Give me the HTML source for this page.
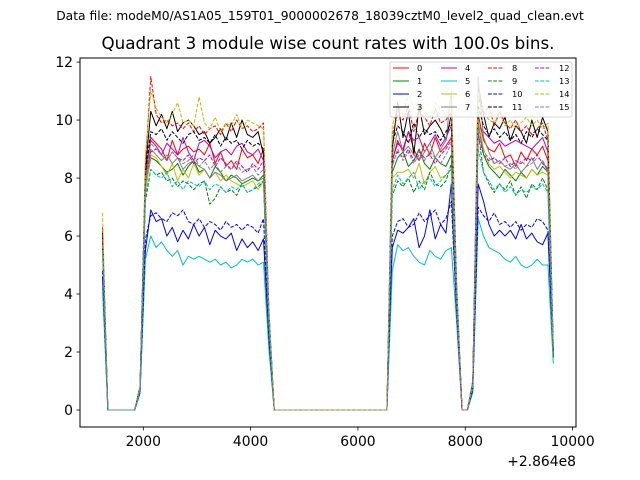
<!DOCTYPE html>
<html><head><meta charset="utf-8"><style>
html,body{margin:0;padding:0;background:#fff;}
svg{display:block;font-family:"DejaVu Sans","Liberation Sans",sans-serif;}
</style></head><body>
<svg id="chart" width="640" height="480" viewBox="0 0 640 480">
<text x="320" y="20" font-size="12.3" text-anchor="middle">Data file: modeM0/AS1A05_159T01_9000002678_18039cztM0_level2_quad_clean.evt</text>
<text x="328" y="49" font-size="16.7" text-anchor="middle">Quadrant 3 module wise count rates with 100.0s bins.</text>
<g id="plot"></g>
<rect x="80" y="58" width="496" height="369" fill="none" stroke="#000" stroke-width="1"/>
<g id="axes"></g>
<g id="legend"></g>
<text x="576" y="466" font-size="13.9" text-anchor="end">+2.864e8</text>
</svg>
<script>
const t0 = 1240, dt = 100, nPts = 85;
const xTicks = [2000,4000,6000,8000,10000];
const yTicks = [0,2,4,6,8,10,12];
const seriesNames = ["0","1","2","3","4","5","6","7","8","9","10","11","12","13","14","15"];
const s0=[6.2,0,0,0,0,0,0,0.8,8.0,9.4,9.2,9.0,8.6,9.3,8.8,9.0,9.1,8.9,9.0,8.8,9.2,8.5,8.9,8.4,8.6,8.3,9.0,8.7,8.8,8.5,9.0,3.2,0,0,0,0,0,0,0,0,0,0,0,0,0,0,0,0,0,0,0,0,0,0,8.6,9.3,8.9,9.6,9.0,8.6,9.2,8.8,9.4,8.9,9.1,9.4,4.0,0,0,0.9,10.2,9.3,9.0,8.9,9.2,8.7,8.8,8.4,8.9,8.6,9.0,8.8,9.1,8.6,2.0];
const s1=[5.8,0,0,0,0,0,0,0.7,7.6,8.7,8.6,8.4,8.2,8.3,8.5,8.1,8.4,8.6,8.2,8.3,8.0,8.4,8.2,7.9,8.1,8.0,7.8,7.9,8.0,7.9,8.1,2.9,0,0,0,0,0,0,0,0,0,0,0,0,0,0,0,0,0,0,0,0,0,0,8.2,8.7,8.9,8.4,8.6,9.0,8.5,8.3,8.7,8.5,8.4,8.8,3.7,0,0,0.8,9.9,8.8,8.4,8.2,8.0,8.3,8.1,7.9,8.2,8.0,8.3,8.1,8.4,8.2,1.8];
const s2=[4.6,0,0,0,0,0,0,0.6,5.5,6.9,6.5,6.6,6.0,6.3,5.8,6.2,5.9,6.4,6.0,6.3,5.7,6.2,6.0,5.9,6.1,5.5,5.9,5.6,5.8,5.5,5.9,2.4,0,0,0,0,0,0,0,0,0,0,0,0,0,0,0,0,0,0,0,0,0,0,5.6,6.2,6.1,6.3,6.6,5.6,6.0,6.9,5.9,6.4,6.1,7.8,3.2,0,0,0.7,7.8,7.2,6.4,6.0,6.2,6.0,6.2,5.9,6.4,5.9,6.1,5.8,5.7,6.1,1.9];
const s3=[6.0,0,0,0,0,0,0,0.8,8.3,10.3,9.8,10.2,9.7,10.3,9.6,9.9,10.0,9.8,9.5,9.6,9.2,9.4,9.7,9.3,9.9,9.4,10.0,9.5,9.4,9.6,8.8,3.4,0,0,0,0,0,0,0,0,0,0,0,0,0,0,0,0,0,0,0,0,0,0,9.0,10.6,9.4,10.3,8.8,10.5,9.5,9.8,10.0,9.7,9.3,10.2,4.1,0,0,1.0,11.2,10.2,9.4,9.9,9.7,10.1,9.3,9.8,9.6,9.2,10.0,9.4,10.1,9.6,2.1];
const s4=[5.9,0,0,0,0,0,0,0.7,8.1,9.3,9.1,8.8,9.2,9.0,8.8,9.4,8.9,8.6,9.2,9.3,9.1,8.7,8.9,9.0,8.8,9.1,9.2,8.9,8.8,9.0,8.6,3.3,0,0,0,0,0,0,0,0,0,0,0,0,0,0,0,0,0,0,0,0,0,0,8.6,9.2,9.0,9.6,9.3,9.4,8.9,9.2,9.5,9.1,9.4,9.8,4.0,0,0,0.9,9.8,9.6,9.4,9.2,9.3,9.1,9.2,9.3,9.2,9.1,9.0,9.2,9.4,8.9,2.0];
const s5=[4.2,0,0,0,0,0,0,0.6,5.2,6.0,5.6,5.8,5.5,5.3,5.5,5.0,5.3,5.2,5.3,5.2,5.1,5.2,5.0,5.1,4.9,5.0,5.2,5.1,5.2,5.0,5.1,2.1,0,0,0,0,0,0,0,0,0,0,0,0,0,0,0,0,0,0,0,0,0,0,4.8,5.7,5.5,5.6,5.3,5.1,5.0,5.5,5.3,5.2,5.5,5.6,3.0,0,0,0.6,6.6,6.0,5.6,5.5,5.4,5.2,5.1,5.3,5.0,4.9,5.0,5.2,5.0,5.0,1.6];
const s6=[5.7,0,0,0,0,0,0,0.7,7.5,8.8,8.7,8.4,8.1,8.5,7.9,8.3,8.0,8.5,8.1,8.3,8.0,8.2,7.9,8.1,7.9,7.8,7.7,7.8,7.9,7.6,7.9,3.0,0,0,0,0,0,0,0,0,0,0,0,0,0,0,0,0,0,0,0,0,0,0,8.0,8.2,8.2,8.3,8.0,8.5,7.8,8.2,8.4,8.0,8.1,8.3,3.8,0,0,0.8,10.0,9.0,8.5,8.3,8.4,8.2,8.0,8.2,8.1,8.0,8.3,8.1,8.2,8.1,1.9];
const s7=[5.5,0,0,0,0,0,0,0.7,7.8,9.0,8.8,8.6,8.8,8.5,8.7,8.3,8.5,8.6,8.4,8.3,8.0,8.2,8.1,7.9,8.0,8.1,7.9,8.0,8.1,7.9,8.0,3.1,0,0,0,0,0,0,0,0,0,0,0,0,0,0,0,0,0,0,0,0,0,0,8.8,9.6,8.9,9.1,8.8,8.6,8.9,9.2,8.7,9.0,9.3,11.0,4.2,0,0,0.9,11.5,9.4,8.9,8.5,8.6,8.4,8.3,8.5,8.2,8.4,8.7,8.3,8.6,8.2,2.0];
const s8=[6.3,0,0,0,0,0,0,0.8,8.5,11.5,10.2,9.9,10.0,9.8,9.9,9.7,9.9,9.6,9.8,9.5,9.7,9.8,9.5,9.9,9.6,10.0,9.7,9.8,9.6,9.7,9.9,3.5,0,0,0,0,0,0,0,0,0,0,0,0,0,0,0,0,0,0,0,0,0,0,9.5,10.2,10.0,10.5,9.6,10.3,10.1,9.8,10.4,9.9,10.0,10.3,4.3,0,0,1.0,10.8,10.2,10.5,9.8,10.3,9.9,9.7,10.0,9.6,9.8,9.5,9.7,9.9,9.3,2.1];
const s9=[5.6,0,0,0,0,0,0,0.7,7.2,8.3,8.1,8.2,7.9,8.0,7.7,7.9,7.8,7.6,7.8,7.9,7.1,7.3,7.7,7.5,7.6,7.4,7.8,7.5,7.6,7.7,7.9,2.8,0,0,0,0,0,0,0,0,0,0,0,0,0,0,0,0,0,0,0,0,0,0,7.4,7.9,7.7,8.0,7.5,7.9,7.6,8.2,7.8,7.7,7.9,8.5,3.6,0,0,0.8,9.6,8.2,7.8,7.5,7.8,7.6,7.9,7.4,7.7,7.3,7.8,7.6,8.0,7.6,1.8];
const s10=[4.8,0,0,0,0,0,0,0.6,5.9,6.7,6.8,6.6,6.5,6.8,6.7,6.9,6.5,6.4,6.6,6.3,6.5,6.4,6.2,6.5,6.3,6.4,6.2,6.4,6.3,6.1,6.6,2.5,0,0,0,0,0,0,0,0,0,0,0,0,0,0,0,0,0,0,0,0,0,0,6.0,6.5,6.6,6.3,6.4,6.8,6.5,6.7,6.9,6.4,6.6,7.2,3.3,0,0,0.7,7.0,6.7,6.5,6.8,6.4,6.5,6.3,6.5,6.2,6.4,6.3,6.6,6.5,6.2,1.9];
const s11=[6.1,0,0,0,0,0,0,0.8,8.2,9.6,9.5,9.7,9.3,9.6,9.4,9.2,9.5,9.6,9.3,9.4,9.2,9.5,9.1,9.4,9.2,9.3,9.0,9.3,9.1,9.2,9.0,3.3,0,0,0,0,0,0,0,0,0,0,0,0,0,0,0,0,0,0,0,0,0,0,9.2,9.8,9.6,9.2,9.9,9.4,9.7,9.5,9.6,9.3,9.6,9.9,4.1,0,0,0.9,10.5,9.8,9.5,9.7,9.4,9.6,9.3,9.5,9.2,9.6,9.4,9.7,9.5,9.3,2.0];
const s12=[5.9,0,0,0,0,0,0,0.7,7.9,8.9,9.0,8.8,8.6,8.9,8.7,8.6,8.8,8.5,8.7,8.6,8.8,8.4,8.7,8.5,8.3,8.6,8.4,8.2,8.5,8.3,8.6,3.2,0,0,0,0,0,0,0,0,0,0,0,0,0,0,0,0,0,0,0,0,0,0,8.5,8.9,8.7,9.0,8.6,8.9,8.7,8.8,8.5,8.8,9.0,9.3,3.9,0,0,0.9,9.5,8.8,8.6,8.7,8.5,8.7,8.4,8.6,8.5,8.7,8.6,8.8,8.5,8.3,1.9];
const s13=[5.4,0,0,0,0,0,0,0.7,7.4,8.3,8.1,8.0,8.2,7.7,7.9,7.6,7.9,7.8,7.7,7.9,7.6,7.8,7.7,7.5,7.7,7.6,7.8,7.5,7.6,7.8,7.9,2.9,0,0,0,0,0,0,0,0,0,0,0,0,0,0,0,0,0,0,0,0,0,0,7.6,8.1,7.8,8.0,8.2,7.6,7.9,8.0,7.7,7.9,8.1,8.3,3.6,0,0,0.8,9.0,8.2,7.9,7.6,7.8,7.5,7.7,7.4,7.6,7.5,7.7,7.6,7.8,7.5,1.8];
const s14=[6.8,0,0,0,0,0,0,0.8,8.8,11.0,10.4,10.1,9.9,10.2,10.6,9.9,10.0,9.8,10.8,9.9,9.7,10.1,9.6,9.9,9.8,10.2,9.7,10.0,9.9,9.8,9.7,3.6,0,0,0,0,0,0,0,0,0,0,0,0,0,0,0,0,0,0,0,0,0,0,9.8,10.5,10.2,10.9,10.4,10.6,10.3,10.1,10.6,10.4,10.2,10.5,4.4,0,0,1.0,10.9,10.3,10.0,9.9,10.2,9.8,10.0,9.7,9.9,10.1,9.8,10.0,9.7,9.9,2.2];
const s15=[5.7,0,0,0,0,0,0,0.7,7.9,9.2,9.0,8.8,8.6,8.9,8.7,8.5,8.6,8.8,8.4,8.6,8.3,8.5,8.2,8.4,8.3,8.5,8.2,8.3,8.4,8.1,8.3,3.1,0,0,0,0,0,0,0,0,0,0,0,0,0,0,0,0,0,0,0,0,0,0,8.4,9.0,8.6,8.9,8.5,8.8,8.6,8.9,8.7,8.5,8.8,9.2,3.9,0,0,0.9,9.8,8.9,8.7,8.5,8.6,8.4,8.5,8.3,8.6,8.4,8.5,8.7,8.6,8.3,1.9];
const allSeries=[s0,s1,s2,s3,s4,s5,s6,s7,s8,s9,s10,s11,s12,s13,s14,s15];
const colors=["#ff0000","#008000","#0000ff","#000000","#bf00bf","#00bfbf","#bfbf00","#808080"];

const NS="http://www.w3.org/2000/svg";
const X0=80,X1=576,Y0=427,Y1=58;
const xMin=821,xMax=10063,yMin=-0.586,yMax=12.14;
function xs(v){return X0+(v-xMin)/(xMax-xMin)*(X1-X0);}
function ys(v){return Y0-(v-yMin)/(yMax-yMin)*(Y0-Y1);}
function mk(tag,attrs,parent){const e=document.createElementNS(NS,tag);for(const k in attrs)e.setAttribute(k,attrs[k]);parent.appendChild(e);return e;}

const plot=document.getElementById('plot');
allSeries.forEach((s,k)=>{
  let d="";
  s.forEach((v,i)=>{d+=(i?"L":"M")+xs(t0+dt*i).toFixed(2)+","+ys(v).toFixed(2);});
  const p=mk('path',{d:d,fill:"none",stroke:colors[k%8],"stroke-width":1,"stroke-linejoin":"round"},plot);
  if(k>=8)p.setAttribute('stroke-dasharray','3.7,1.6');
  
  
});

const axes=document.getElementById('axes');
xTicks.forEach(v=>{
  const x=xs(v);
  const l=mk('line',{x1:x,x2:x,y1:Y0,y2:Y0+3.5,stroke:"#000","stroke-width":0.8},axes);
  
  
  const t=mk('text',{x:x,y:Y0+19,"font-size":13.9,"text-anchor":"middle"},axes);
  t.textContent=v;
  
  
});
yTicks.forEach(v=>{
  const y=ys(v);
  const l=mk('line',{x1:X0-3.5,x2:X0,y1:y,y2:y,stroke:"#000","stroke-width":0.8},axes);
  
  
  const t=mk('text',{x:X0-7,y:y+5,"font-size":13.9,"text-anchor":"end"},axes);
  t.textContent=v;
  
  
});

const leg=document.getElementById('legend');
const lb=mk('rect',{x:390,y:62,width:182,height:55,fill:"#fff","fill-opacity":0.8,stroke:"#ccc","stroke-width":0.8,rx:2},leg);


const colX=[393,441,488,535], rowY=[68,81,94,107];
seriesNames.forEach((n,k)=>{
  const c=Math.floor(k/4), r=k%4;
  const g=mk('g',{},leg);
  
  
  const l=mk('line',{x1:colX[c],x2:colX[c]+16,y1:rowY[r],y2:rowY[r],stroke:colors[k%8],"stroke-width":1},g);
  if(k>=8)l.setAttribute('stroke-dasharray','3.7,1.6');
  const t=mk('text',{x:colX[c]+24,y:rowY[r]+3,"font-size":8.3},g);
  t.textContent=n;
});
</script>
</body></html>
